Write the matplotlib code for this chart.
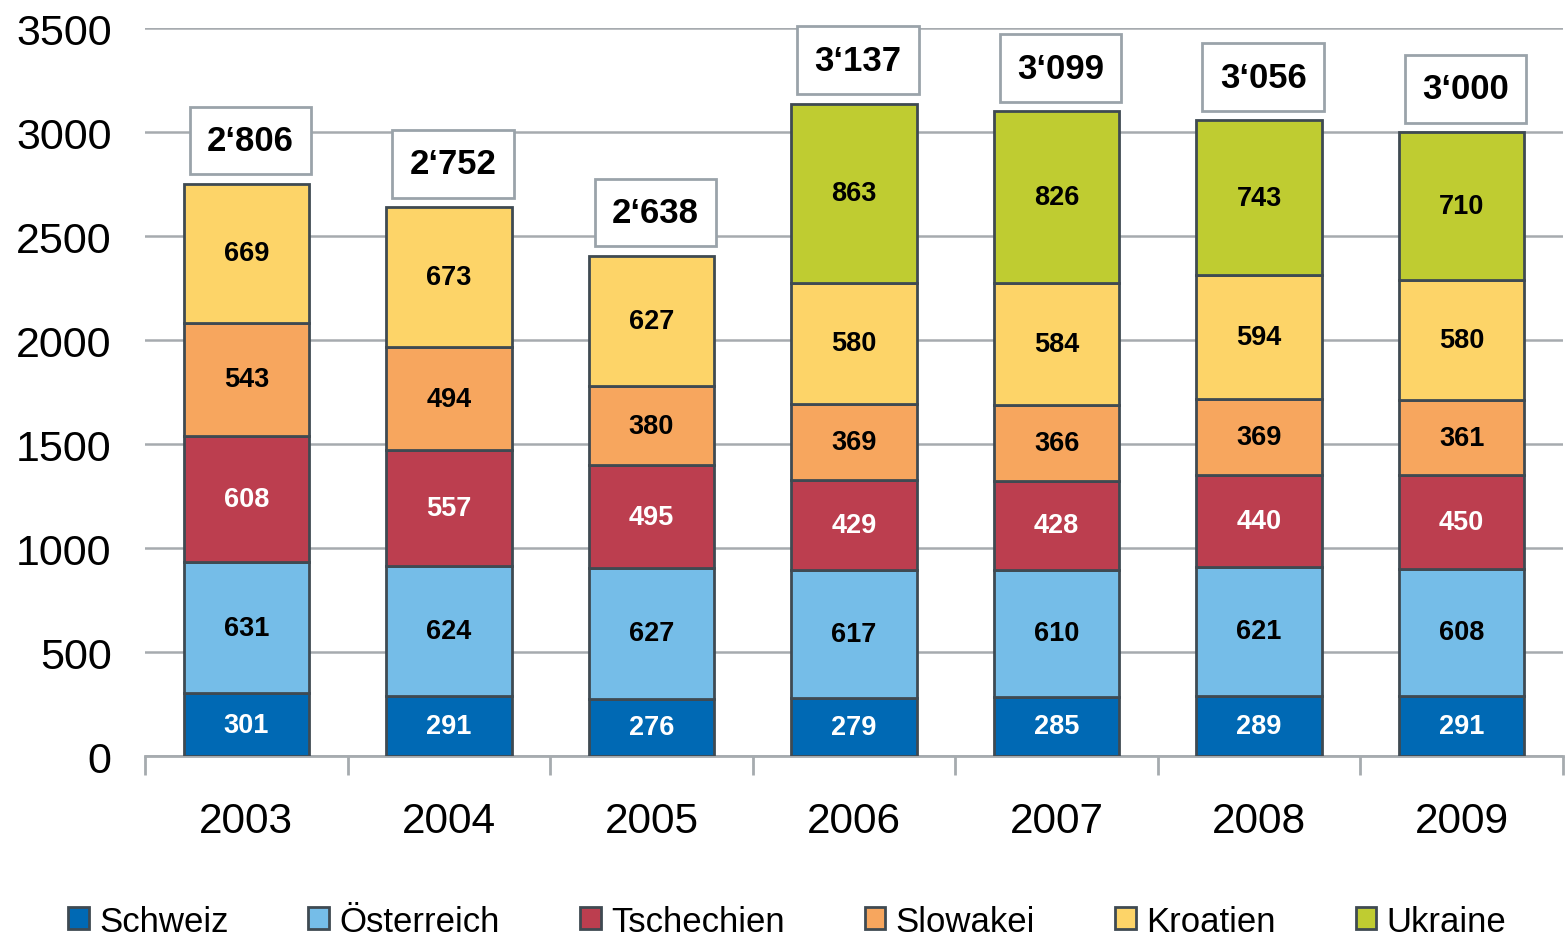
import numpy as np
import matplotlib.pyplot as plt

plt.rcParams['font.family'] = ['Liberation Sans', 'DejaVu Sans']

years = ['2003', '2004', '2005', '2006', '2007', '2008', '2009']
schweiz = [301, 291, 276, 279, 285, 289, 291]
oesterreich = [631, 624, 627, 617, 610, 621, 608]
tschechien = [608, 557, 495, 429, 428, 440, 450]
slowakei = [543, 494, 380, 369, 366, 369, 361]
kroatien = [669, 673, 627, 580, 584, 594, 580]
ukraine = [0, 0, 0, 863, 826, 743, 710]
totals = ['2‘806', '2‘752', '2‘638', '3‘137', '3‘099', '3‘056', '3‘000']

series = [
    ('Schweiz', schweiz, '#0069B4', 'white'),
    ('Österreich', oesterreich, '#75BDE8', 'black'),
    ('Tschechien', tschechien, '#BC3E4F', 'white'),
    ('Slowakei', slowakei, '#F7A65E', 'black'),
    ('Kroatien', kroatien, '#FDD468', 'black'),
    ('Ukraine', ukraine, '#BFCC31', 'black'),
]

fig = plt.figure(figsize=(15.68, 9.37), dpi=100)
ax = fig.add_axes([0.0925, 0.192, 0.9043, 0.777])

x = np.arange(len(years))
bottom = np.zeros(len(years))
for name, vals, col, tcol in series:
    vals = np.array(vals, dtype=float)
    mask = vals > 0
    ax.bar(x[mask], vals[mask], bottom=bottom[mask], width=0.62, color=col,
           edgecolor='#3F4A52', linewidth=2, label=name, zorder=3)
    for xi, v, b in zip(x, vals, bottom):
        if v > 0:
            ax.text(xi, b + v / 2, str(int(v)), ha='center', va='center',
                    fontsize=19.5, fontweight='bold', color=tcol, zorder=4)
    bottom += vals

# total boxes above stacks
for xi, top, t in zip(x, bottom, totals):
    ax.text(xi + 0.02, top + 208, t, ha='center', va='center', fontsize=25,
            fontweight='bold', zorder=5,
            bbox=dict(boxstyle='square,pad=0.5', facecolor='white',
                      edgecolor='#9AA3AA', linewidth=2))

ax.set_xlim(-0.5, 6.5)
ax.set_ylim(0, 3500)
ax.set_yticks(range(0, 3501, 500))
ax.yaxis.grid(True, color='#A6ABAF', linewidth=1.8, zorder=0)
ax.tick_params(axis='y', length=0, labelsize=31, pad=24)

ax.set_xticks(np.arange(-0.5, 7, 1), minor=False)
ax.set_xticklabels([])
ax.set_xticks(x, minor=True)
ax.set_xticklabels(years, minor=True)
ax.tick_params(axis='x', which='major', length=14, width=2, color='#A6ABAF',
               direction='out')
ax.tick_params(axis='x', which='minor', length=0, labelsize=30.5, pad=32)

for s in ['top', 'right', 'left']:
    ax.spines[s].set_visible(False)
ax.spines['bottom'].set_color('#A6ABAF')
ax.spines['bottom'].set_linewidth(2)

fig.legend(loc='center', bbox_to_anchor=(0.502, 0.016), ncol=6,
           frameon=False, fontsize=25, handlelength=0.6, handleheight=0.6,
           handletextpad=0.3, columnspacing=2.3, borderpad=0)

fig.savefig('out.png', dpi=100)
